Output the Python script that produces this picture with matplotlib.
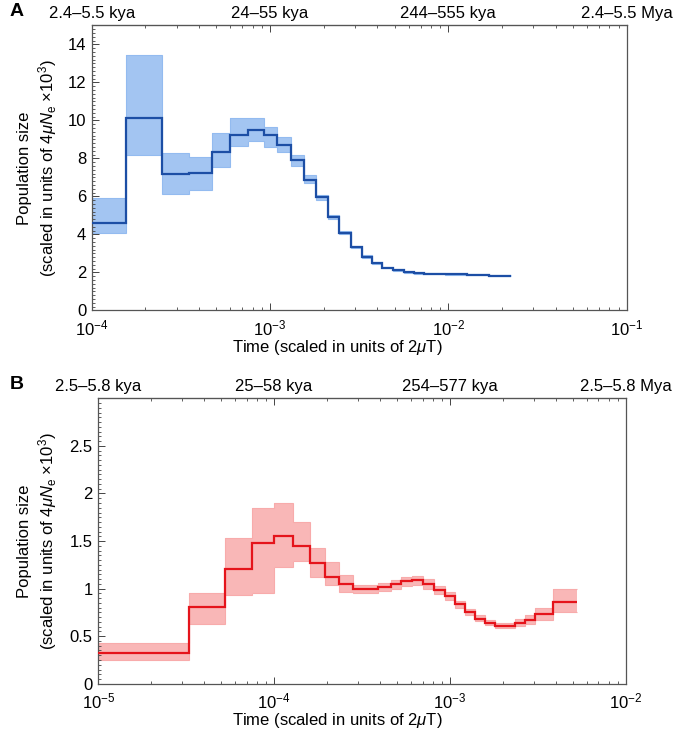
import math
import matplotlib
matplotlib.use("Agg")
import matplotlib.pyplot as plt
from matplotlib.ticker import FixedLocator, MultipleLocator, FuncFormatter, LogLocator, NullFormatter

plt.rcParams['font.family'] = ['Liberation Sans', 'DejaVu Sans']
plt.rcParams['mathtext.fontset'] = 'custom'
plt.rcParams['mathtext.rm'] = 'Liberation Sans'
plt.rcParams['mathtext.it'] = 'Liberation Sans:italic'
plt.rcParams['mathtext.bf'] = 'Liberation Sans:bold'

# ---- panel A (blue) : step edges, median curve, bootstrap range ----
a_edges = [1.0e-4, 1.55e-4, 2.47e-4, 3.5e-4, 4.7e-4, 6.0e-4, 7.55e-4, 9.2e-4, 1.1e-3,
           1.31e-3, 1.55e-3, 1.82e-3, 2.11e-3, 2.45e-3, 2.83e-3, 3.27e-3, 3.72e-3,
           4.27e-3, 4.9e-3, 5.63e-3, 6.4e-3, 7.3e-3, 8.4e-3, 9.6e-3, 1.1e-2, 1.27e-2,
           1.46e-2, 1.7e-2, 2.25e-2]
a_vals = [4.6, 10.1, 7.19, 7.25, 8.33, 9.25, 9.47, 9.21, 8.68, 7.9, 6.88, 5.96, 4.91,
          4.09, 3.34, 2.84, 2.5, 2.25, 2.12, 2.0, 1.96, 1.94, 1.92, 1.91, 1.9, 1.89,
          1.88, 1.83]
a_lo = [4.05, 8.2, 6.15, 6.35, 7.55, 8.65, 8.9, 8.6, 8.35, 7.6, 6.7, 5.8, 4.8, 4.0,
        3.27, 2.78, 2.45, 2.21, 2.08, 1.97, 1.93, 1.91, 1.9, 1.89, 1.88, 1.87, 1.86, 1.81]
a_hi = [5.9, 13.45, 8.3, 8.07, 9.33, 10.1, 10.14, 9.65, 9.12, 8.16, 7.14, 6.1, 5.02,
        4.18, 3.41, 2.9, 2.55, 2.29, 2.16, 2.03, 1.99, 1.97, 1.95, 1.93, 1.92, 1.91, 1.9, 1.85]

# ---- panel B (red) ----
b_edges = [1.0e-5, 3.28e-5, 5.25e-5, 7.45e-5, 1.0e-4, 1.28e-4, 1.6e-4, 1.95e-4, 2.35e-4,
           2.82e-4, 3.35e-4, 3.92e-4, 4.6e-4, 5.3e-4, 6.1e-4, 7.06e-4, 8.1e-4, 9.38e-4,
           1.07e-3, 1.22e-3, 1.39e-3, 1.58e-3, 1.81e-3, 2.08e-3, 2.35e-3, 2.67e-3,
           3.05e-3, 3.87e-3, 5.26e-3]
b_vals = [0.32, 0.807, 1.208, 1.476, 1.55, 1.45, 1.274, 1.12, 1.05, 0.995, 0.995, 1.016,
          1.05, 1.08, 1.086, 1.05, 0.981, 0.92, 0.835, 0.754, 0.685, 0.643, 0.612, 0.612,
          0.64, 0.667, 0.737, 0.856]
b_lo = [0.25, 0.63, 0.93, 0.95, 1.23, 1.29, 1.12, 1.04, 0.96, 0.95, 0.95, 0.97, 1.0,
        1.03, 1.04, 1.0, 0.94, 0.88, 0.8, 0.72, 0.66, 0.62, 0.59, 0.59, 0.61, 0.63, 0.67, 0.75]
b_hi = [0.43, 0.95, 1.53, 1.85, 1.9, 1.7, 1.43, 1.28, 1.14, 1.04, 1.04, 1.06, 1.09,
        1.12, 1.13, 1.1, 1.03, 0.96, 0.87, 0.79, 0.72, 0.67, 0.64, 0.64, 0.68, 0.72, 0.8, 1.0]

a_top = ["2.4\u20135.5 kya", "24\u201355 kya", "244\u2013555 kya", "2.4\u20135.5 Mya"]
b_top = ["2.5\u20135.8 kya", "25\u201358 kya", "254\u2013577 kya", "2.5\u20135.8 Mya"]

W, H = 674, 731
FS = 12
fig = plt.figure(figsize=(W / 100, H / 100), dpi=100)

ylab = "Population size\n(scaled in units of 4$\\mu N_{\\mathrm{e}}$ \u00d710$^{3}$)"
xlab = "Time (scaled in units of 2$\\mu$T)"
fmt = FuncFormatter(lambda v, p: "$\\mathregular{10^{%d}}$" % round(math.log10(v)))


def panel(rect, edges, vals, lo, hi, line_c, band_c, xlim, ylim, ymaj, ymin, ytl, top, letter, ylx, xlx):
    ax = fig.add_axes(rect)
    ax.set_xscale("log")
    ax.stairs(hi, edges, baseline=lo, fill=True, color=band_c, alpha=0.85, lw=0, zorder=1)
    ax.stairs(hi, edges, baseline=None, color=band_c, lw=0.8, zorder=1.5)
    ax.stairs(lo, edges, baseline=None, color=band_c, lw=0.8, zorder=1.5)
    ax.stairs(vals, edges, baseline=None, color=line_c, lw=1.6, zorder=3)
    ax.set_xlim(*xlim)
    ax.set_ylim(*ylim)
    ax.xaxis.set_major_locator(LogLocator(base=10, numticks=10))
    ax.xaxis.set_major_formatter(fmt)
    ax.xaxis.set_minor_locator(LogLocator(base=10, subs=range(2, 10), numticks=20))
    ax.xaxis.set_minor_formatter(NullFormatter())
    ax.yaxis.set_major_locator(FixedLocator(ymaj))
    ax.yaxis.set_major_formatter(FuncFormatter(lambda v, p: ytl.get(round(v, 2), "")))
    ax.yaxis.set_minor_locator(MultipleLocator(ymin))
    ax.tick_params(which="both", direction="in", top=False, right=False,
                   labelsize=FS, color="#444")
    ax.tick_params(axis="x", which="both", pad=5.5)
    ax.tick_params(axis="y", which="both", pad=4)
    ax.tick_params(which="major", length=5, width=0.7)
    ax.tick_params(which="minor", length=2.5, width=0.6)
    for s in ax.spines.values():
        s.set_color("#555")
        s.set_linewidth(0.9)
    sec = ax.secondary_xaxis("top")
    sec.set_xticks([xlim[0] * 10 ** i for i in range(4)])
    sec.set_xticklabels(top)
    sec.xaxis.set_minor_locator(LogLocator(base=10, subs=range(2, 10), numticks=20))
    sec.xaxis.set_minor_formatter(NullFormatter())
    sec.tick_params(which="both", direction="in", labelsize=FS, color="#444", pad=3)
    sec.tick_params(which="major", length=5, width=0.7)
    sec.tick_params(which="minor", length=2.5, width=0.6)
    sec.spines["top"].set_color("#555")
    ax.set_xlabel(xlab, fontsize=FS)
    ax.xaxis.label.set_va("center")
    ax.xaxis.set_label_coords(xlx, -37 / (rect[3] * H))
    ax.set_ylabel(ylab, fontsize=FS, linespacing=1.25)
    ax.yaxis.label.set_va("center")
    ax.yaxis.set_label_coords(ylx, 0.5)
    fig.text(10 / W, rect[1] + rect[3] + 0.007, letter, fontsize=14, fontweight="bold",
             ha="left", va="bottom")
    return ax


panel([91.7 / W, 1 - 310.5 / H, 535 / W, 285.2 / H], a_edges, a_vals, a_lo, a_hi,
      "#1c4ea5", "#93bbf0", (1e-4, 1e-1), (0, 15), [0, 2, 4, 6, 8, 10, 12, 14], 0.2,
      {v: str(int(v)) for v in range(0, 15, 2)}, a_top, "A", (38 - 91.7) / 535,
      (337 - 91.7) / 535)

panel([98.3 / W, 1 - 683.8 / H, 527.4 / W, 285.5 / H], b_edges, b_vals, b_lo, b_hi,
      "#e5141b", "#f8abab", (1e-5, 1e-2), (0, 3), [0, 0.5, 1, 1.5, 2, 2.5], 0.05,
      {0: "0", 0.5: "0.5", 1: "1", 1.5: "1.5", 2: "2", 2.5: "2.5"}, b_top, "B",
      (38 - 98.3) / 527.4, (337 - 98.3) / 527.4)

fig.savefig("out.png", dpi=100, facecolor="white")
